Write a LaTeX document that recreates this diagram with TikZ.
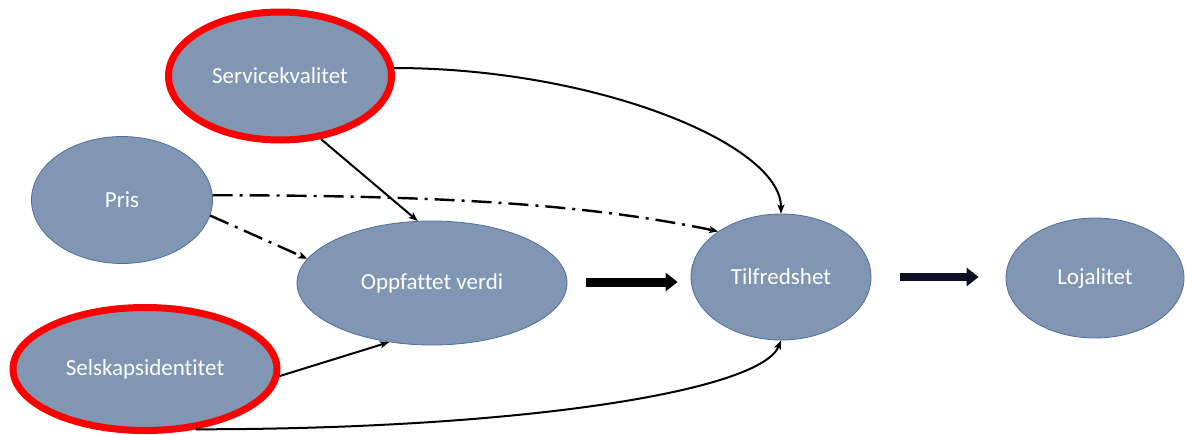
\documentclass[tikz,border=0pt]{standalone}
\usepackage{fontspec}
\setmainfont{Carlito}[Ligatures={NoCommon}]
\usepackage{xcolor}
\usepackage{tikz}
\usetikzlibrary{shapes.geometric, arrows.meta, positioning, calc}
\definecolor{cfill}{RGB}{128, 150, 178}
\definecolor{cedge}{RGB}{79, 110, 160}
\definecolor{cred}{RGB}{255, 0, 0}
\definecolor{cnavy}{RGB}{12, 16, 34}

\begin{document}
\begin{tikzpicture}[x=1pt, y=-1pt,
  concept/.style={ellipse, draw=cedge, line width=0.8pt, fill=cfill, text=white,
    inner sep=0pt, font=\fontsize{23}{27}\selectfont},
  keyconcept/.style={concept, draw=cred, line width=7pt},
  link/.style={draw=black, line width=2pt, -{Stealth[length=9pt, width=7pt, inset=2pt]}},
  dashlink/.style={link, line width=2.4pt, dash pattern=on 20pt off 7pt on 3pt off 7pt},
  bigarrow/.style={line width=9pt, -{Triangle[length=12pt, width=18pt]}}]
  \useasboundingbox (0,0) rectangle (1185,434);

  % constructs
  \node[keyconcept, minimum width=223pt, minimum height=128pt] (serv) at (280,76) {Servicekvalitet};
  \node[concept, minimum width=181pt, minimum height=127pt] (pris) at (122,200) {Pris};
  \node[concept, minimum width=270pt, minimum height=124pt] (verdi) at (432,283) {Oppfattet verdi};
  \node[keyconcept, minimum width=264pt, minimum height=123pt] (selsk) at (145,369) {Selskapsidentitet};
  \node[concept, minimum width=180pt, minimum height=126pt] (tilf) at (781,277) {Tilfredshet};
  \node[concept, minimum width=178pt, minimum height=120pt] (loja) at (1095,278) {Lojalitet};

  % effects
  \draw[link] (serv.4) .. controls +(200,0) and +(0,-70) .. (tilf.north);
  \draw[link] (serv.-57) -- (verdi.103);
  \draw[dashlink] (pris.3) .. controls +(250,0) and +(-120,-25) .. (tilf.144);
  \draw[dashlink] (pris.-10) -- (verdi.169);
  \draw[link] (selsk.-3) -- (verdi.234);
  \draw[link] (selsk.-50) .. controls +(330,0) and +(-20,50) .. (tilf.south);

  % main chain
  \coordinate (chainA) at ([xshift=19pt, yshift=1pt]verdi.east);
  \draw[bigarrow, black] (chainA) -- ([xshift=-13pt]tilf.west |- chainA);
  \draw[bigarrow, cnavy, line width=8pt] ([xshift=29pt]tilf.east) -- ([xshift=-27pt]loja.west |- tilf.east);
\end{tikzpicture}
\end{document}
